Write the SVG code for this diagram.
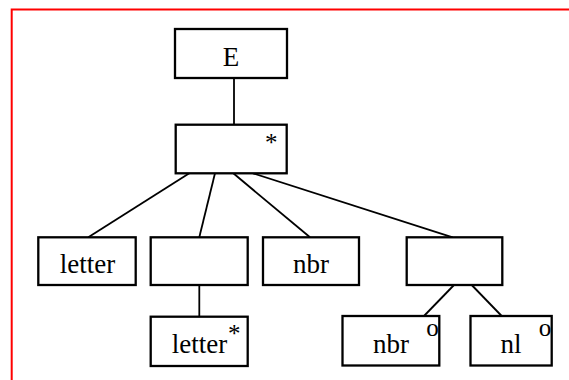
<svg xmlns="http://www.w3.org/2000/svg" width="569" height="380" viewBox="0 0 569 380">
<style>
.box{fill:#fff;stroke:#000;stroke-width:2.3}
.t{font-family:"Liberation Serif","Times New Roman",serif;font-size:27px;fill:#000}
.s{font-family:"Liberation Serif","Times New Roman",serif;font-size:25px;fill:#000}
.c{text-anchor:middle}
.edge{stroke:#000;stroke-width:1.8;fill:none}
</style>
<rect width="569" height="380" fill="#fff"/>
<path d="M11.7 380 V9.5 H569" fill="none" stroke="#ff0000" stroke-width="2"/>
<g id="connectors">
<line class="edge" x1="234" y1="78" x2="234" y2="125"/>
<line class="edge" x1="189.3" y1="173.3" x2="88.3" y2="237.3"/>
<line class="edge" x1="215" y1="173.3" x2="199.3" y2="237.3"/>
<line class="edge" x1="233.3" y1="173.3" x2="310" y2="237.3"/>
<line class="edge" x1="253" y1="173.3" x2="452.7" y2="237.3"/>
<line class="edge" x1="199.3" y1="285" x2="199.3" y2="316.7"/>
<line class="edge" x1="454" y1="285" x2="424" y2="316"/>
<line class="edge" x1="471.7" y1="285" x2="501.7" y2="316"/>
</g>
<g id="nodeE">
<rect class="box" x="175" y="29" width="112" height="49"/>
<text class="t c" x="231" y="65.7">E</text>
</g>
<g id="nodeStar">
<rect class="box" x="175.7" y="124.7" width="111" height="48.6"/>
<text class="s" x="265" y="151">*</text>
</g>
<g id="nodeLetter">
<rect class="box" x="38.3" y="237.3" width="97.4" height="47.7"/>
<text class="t c" x="87.5" y="272.7">letter</text>
</g>
<g id="nodeSeq">
<rect class="box" x="150.7" y="237.3" width="97" height="47.7"/>
</g>
<g id="nodeNbr">
<rect class="box" x="263" y="237.3" width="96" height="47.7"/>
<text class="t c" x="311" y="272.7">nbr</text>
</g>
<g id="nodeOpt">
<rect class="box" x="406.7" y="237.3" width="95.6" height="47.7"/>
</g>
<g id="nodeLetterStar">
<rect class="box" x="150.7" y="316.7" width="97" height="49.3"/>
<text class="t c" x="199.5" y="353.3">letter</text>
<text class="s" x="228" y="341.6">*</text>
</g>
<g id="nodeNbrOpt">
<rect class="box" x="342.5" y="316" width="96.8" height="49.5"/>
<text class="t c" x="391" y="353.3">nbr</text>
<text class="s" x="426.3" y="336">o</text>
</g>
<g id="nodeNlOpt">
<rect class="box" x="470.5" y="316" width="81.2" height="49.5"/>
<text class="t c" x="511" y="353.3">nl</text>
<text class="s" x="538.7" y="336">o</text>
</g>
</svg>
